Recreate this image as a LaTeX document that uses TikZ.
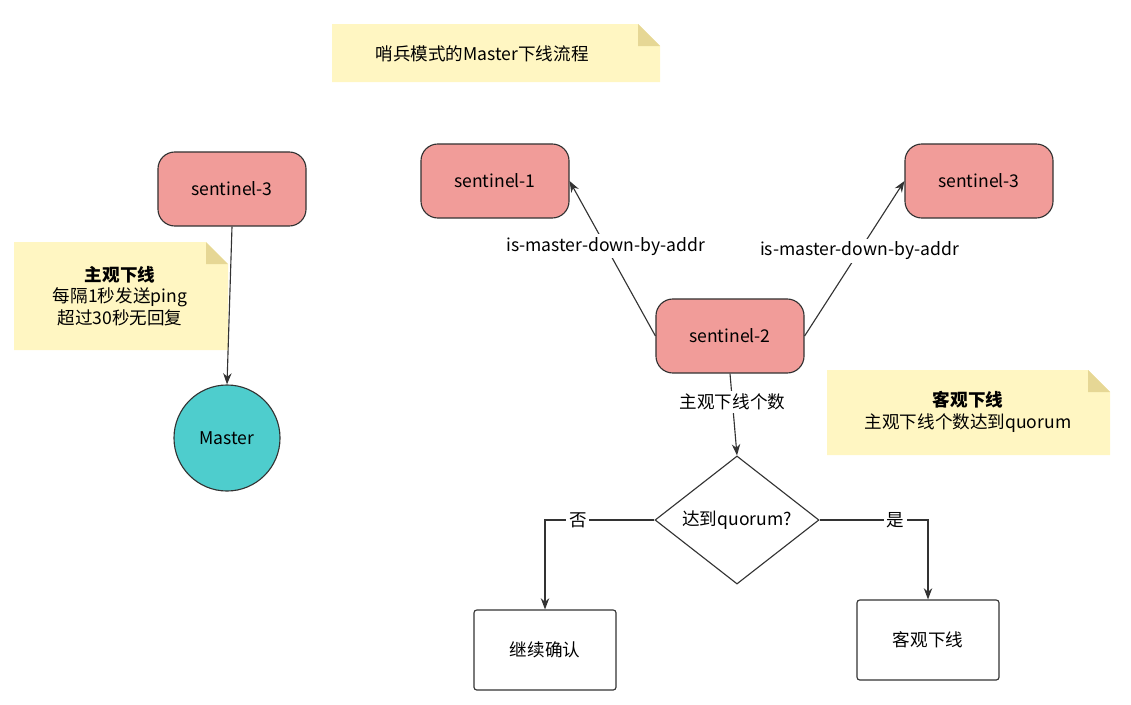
\documentclass[tikz,border=0pt]{standalone}
\usepackage{fontspec}
\setmainfont{Noto Sans CJK SC}
\usetikzlibrary{shapes.geometric,arrows.meta}
\definecolor{notefill}{HTML}{FFF6C2}
\definecolor{notefold}{HTML}{E6D795}
\definecolor{sentred}{HTML}{F19C99}
\definecolor{mastercyan}{HTML}{4ECDCD}
\definecolor{linegray}{HTML}{333333}
\begin{document}
\begin{tikzpicture}[x=0.025cm, y=-0.025cm, font=\fontsize{12.5}{15.5}\selectfont,
    sent/.style = {shape=rectangle, rounded corners=12pt, draw=linegray, thick,
      fill=sentred, minimum width=3.7cm, minimum height=1.85cm, align=center},
    box/.style = {shape=rectangle, rounded corners=2pt, draw=linegray, thick,
      fill=white, minimum width=3.55cm, minimum height=2cm, align=center},
    arr/.style = {draw=linegray, thick, -{Stealth[length=8pt,width=6pt]}},
    lbl/.style = {fill=white, inner sep=2pt}]
  \useasboundingbox (0,0) rectangle (1131,704);
  % notes
  \foreach \xa/\ya/\xb/\yb in {332/24/660/82, 14/242/228/350, 827/370/1110/455} {
    \fill[notefill] (\xa,\ya) -- (\xb-22,\ya) -- (\xb,\ya+22) -- (\xb,\yb) -- (\xa,\yb) -- cycle;
    \fill[notefold] (\xb-22,\ya) -- (\xb,\ya+22) -- (\xb-22,\ya+22) -- cycle;
  }
  \node (title) at (482,54) {哨兵模式的Master下线流程};
  \node[align=center] (subj) at (120,296) {\textbf{主观下线}\\每隔1秒发送ping\\超过30秒无回复};
  \node[align=center] (obj) at (968,412) {\textbf{客观下线}\\主观下线个数达到quorum};
  % nodes
  \node[sent] (s3l) at (232,189) {sentinel-3};
  \node[circle, draw=linegray, thick, fill=mastercyan, minimum size=2.65cm] (master) at (227,438) {Master};
  \node[sent] (s1) at (495,181) {sentinel-1};
  \node[sent] (s3r) at (979,181) {sentinel-3};
  \node[sent] (s2) at (730,336) {sentinel-2};
  \node[diamond, draw=linegray, thick, fill=white, minimum width=4.1cm, minimum height=2.65cm,
    inner sep=0pt] (check) at (737,520) {达到quorum?};
  \node[box] (wait) at (545,650) {继续确认};
  \node[box] (down) at (928,640) {客观下线};
  % connectors
  \draw[arr] (s2.west) -- (s1.east) node[lbl, pos=0.58] {is-master-down-by-addr};
  \draw[arr] (s2.east) -- (s3r.west) node[lbl, pos=0.55] {is-master-down-by-addr};
  \draw[arr] (s3l.south) -- (master.north);
  \draw[arr] (s2.south) -- (check.north) node[lbl, pos=0.35] {主观下线个数};
  \draw[arr] (check.west) -| node[lbl, pos=0.35] {否} (wait.north);
  \draw[arr] (check.east) -| node[lbl, pos=0.35] {是} (down.north);
\end{tikzpicture}
\end{document}
